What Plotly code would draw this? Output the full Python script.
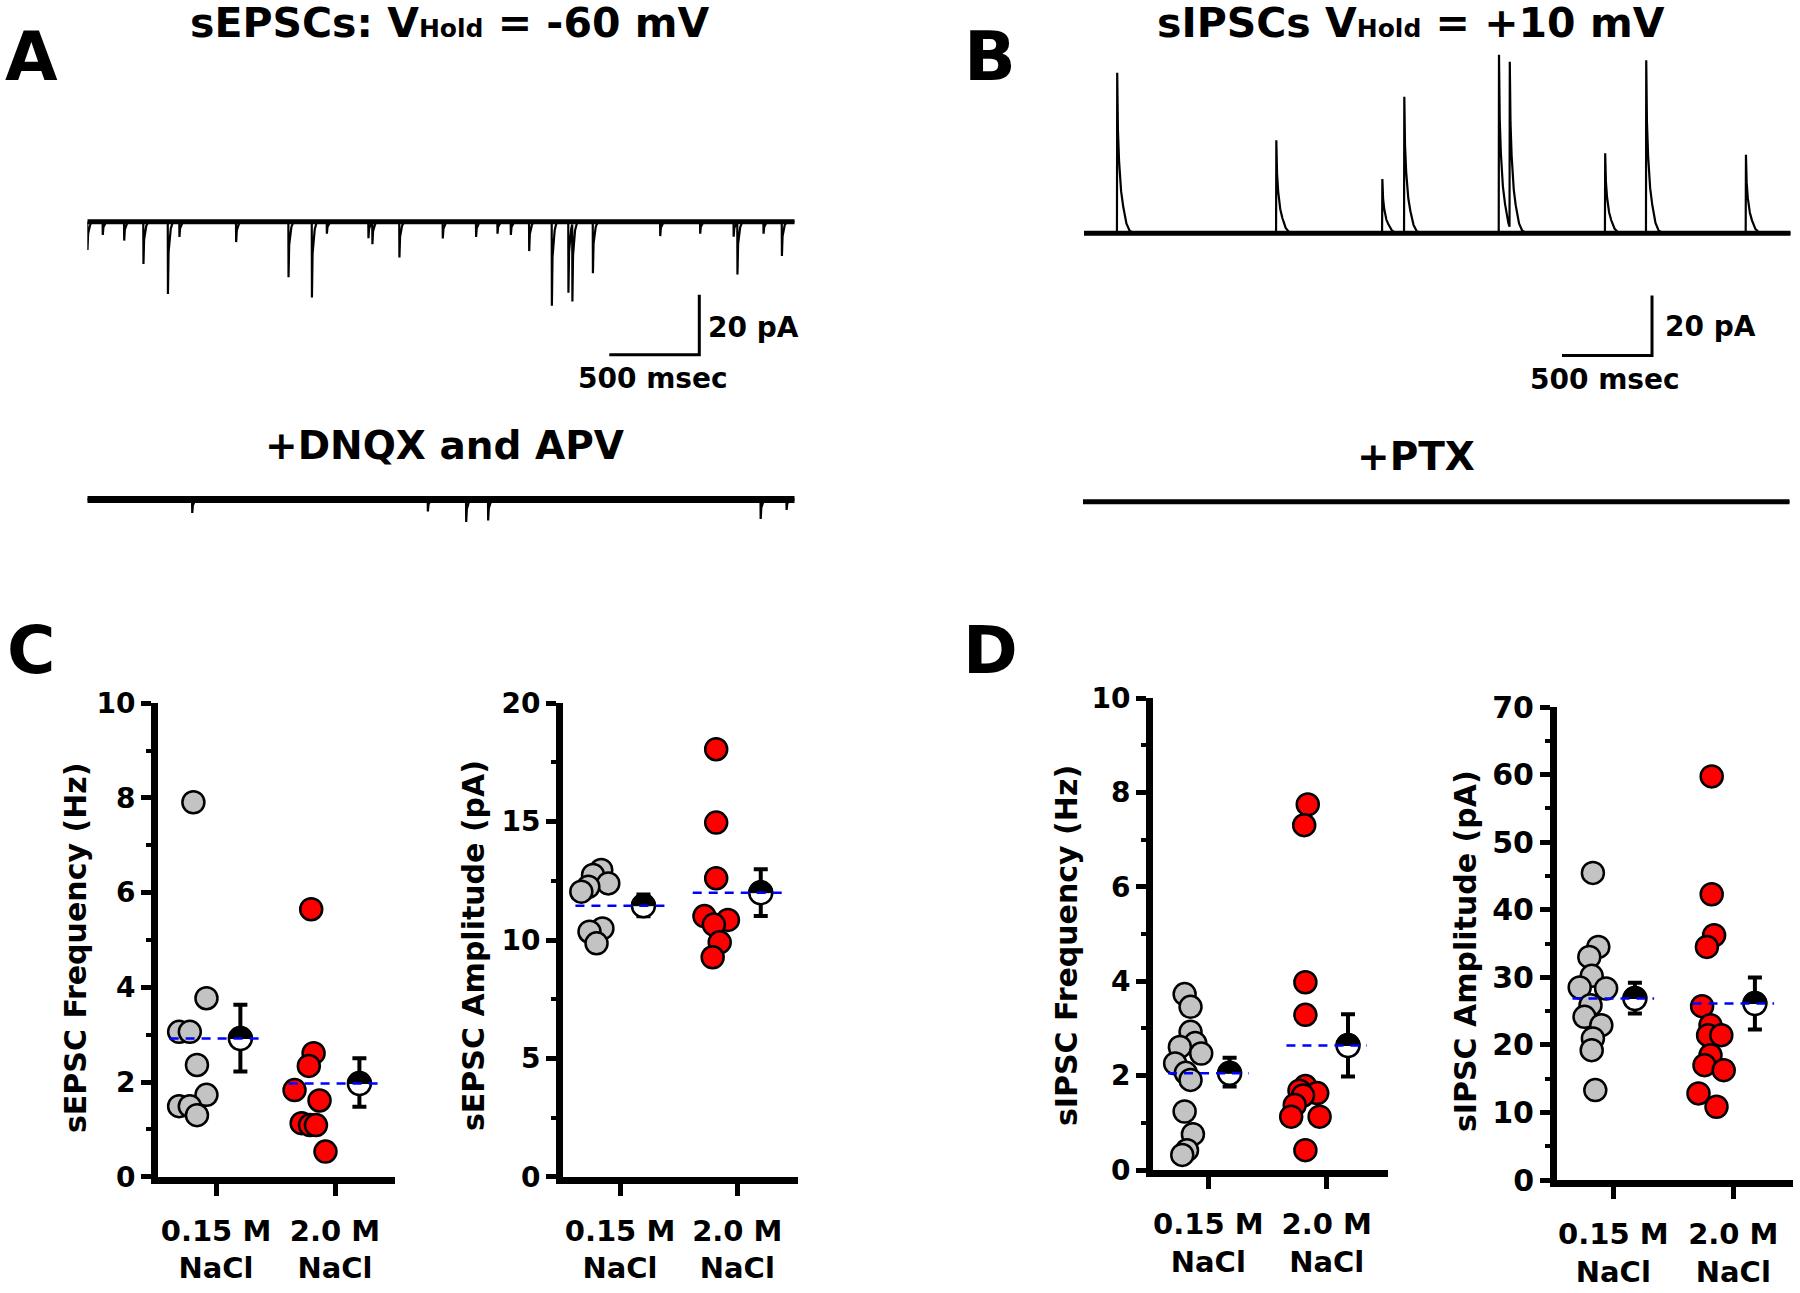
import numpy as np
import plotly.graph_objects as go

W, H = 1800, 1293
FONT = "DejaVu Sans"

# ------------------------------------------------------------------ data
category_labels = ["0.15 M<br>NaCl", "2.0 M<br>NaCl"]

# Panel C (left): sEPSC frequency (Hz)
c_freq_015 = [7.91, 3.77, 3.06, 3.06, 2.36, 1.73, 1.49, 1.49, 1.30]
c_freq_015_jit = [-0.19, -0.08, -0.31, -0.22, -0.16, -0.08, -0.31, -0.22, -0.16]
c_freq_20 = [5.65, 2.61, 2.34, 1.83, 1.61, 1.13, 1.09, 1.09, 0.53]
c_freq_20_jit = [-0.20, -0.18, -0.22, -0.34, -0.13, -0.28, -0.21, -0.16, -0.08]
c_freq_mean = [2.92, 1.97]
c_freq_hi = [3.63, 2.50]
c_freq_lo = [2.22, 1.48]

# Panel C (right): sEPSC amplitude (pA)
c_amp_015 = [12.96, 12.75, 12.39, 12.25, 12.04, 10.49, 10.35, 9.86]
c_amp_015_jit = [-0.16, -0.23, -0.10, -0.27, -0.33, -0.15, -0.26, -0.20]
c_amp_20 = [18.06, 14.96, 12.61, 11.01, 10.85, 10.65, 9.90, 9.27]
c_amp_20_jit = [-0.18, -0.18, -0.18, -0.28, -0.08, -0.20, -0.15, -0.21]
c_amp_mean = [11.45, 12.00]
c_amp_hi = [11.92, 12.99]
c_amp_lo = [11.00, 11.01]

# Panel D (left): sIPSC frequency (Hz)
d_freq_015 = [3.73, 3.46, 2.93, 2.69, 2.61, 2.47, 2.26, 2.06, 1.91, 1.24, 0.76, 0.42, 0.32]
d_freq_015_jit = [-0.20, -0.15, -0.15, -0.11, -0.24, -0.06, -0.28, -0.19, -0.15, -0.20, -0.13, -0.18, -0.22]
d_freq_20 = [7.75, 7.31, 3.98, 3.29, 1.78, 1.68, 1.63, 1.58, 1.38, 1.13, 1.13, 0.42]
d_freq_20_jit = [-0.16, -0.19, -0.18, -0.18, -0.18, -0.23, -0.08, -0.20, -0.27, -0.30, -0.06, -0.18]
d_freq_mean = [2.05, 2.64]
d_freq_hi = [2.38, 3.30]
d_freq_lo = [1.77, 1.98]

# Panel D (right): sIPSC amplitude (pA)
d_amp_015 = [45.44, 34.50, 33.02, 30.21, 28.49, 28.34, 25.87, 24.15, 22.92, 20.95, 19.22, 13.31]
d_amp_015_jit = [-0.17, -0.125, -0.20, -0.18, -0.28, -0.06, -0.19, -0.24, -0.10, -0.17, -0.18, -0.15]
d_amp_20 = [59.73, 42.29, 36.22, 34.50, 25.73, 22.92, 21.44, 21.44, 18.48, 17.00, 16.26, 12.81, 10.84]
d_amp_20_jit = [-0.18, -0.18, -0.16, -0.22, -0.26, -0.19, -0.21, -0.10, -0.19, -0.24, -0.08, -0.29, -0.14]
d_amp_mean = [26.86, 26.12]
d_amp_hi = [29.18, 29.97]
d_amp_lo = [24.64, 22.28]

# Panel A: sEPSC events (time ms, amplitude pA) and DNQX/APV residual events
epsc_t = [0, 85, 204, 311, 447, 511, 826, 1117, 1247, 1330, 1561, 1583, 1733, 1974, 2159,
          2278, 2352, 2454, 2580, 2672, 2694, 2808, 3182, 3404, 3590, 3611, 3756, 3858]
epsc_amp = [-9.4, -4.4, -6.3, -14.1, -24.1, -5.1, -6.8, -18.5, -25.3, -4.0, -5.5, -7.3, -11.9, -5.6, -5.1,
            -4.0, -4.4, -9.8, -28.0, -23.7, -25.8, -17.2, -4.8, -4.0, -5.0, -17.4, -4.0, -11.4]
dnqx_t = [582, 1891, 2104, 2226, 3740, 3884]
dnqx_amp = [-4.5, -4.0, -7.5, -7.0, -6.5, -3.5]
trace_a_len_ms = 3930

# Panel B: sIPSC events (time ms, amplitude pA)
ipsc_t = [183, 1067, 1656, 1778, 2304, 2364, 2894, 3122, 3676]
ipsc_amp = [53.5, 31.0, 18.1, 45.5, 59.5, 55.3, 26.7, 57.7, 26.2]
trace_b_len_ms = 3926

# event waveform templates (ms after onset, fraction of peak)
epsc_shape_t = [0, 1, 4, 10, 20, 30]
epsc_shape_v = [0, 1, 0.45, 0.2, 0.05, 0]
ipsc_shape_t = [0, 1.5, 6, 15, 25, 37, 50, 65, 90]
ipsc_shape_v = [0, 1, 0.6, 0.37, 0.24, 0.15, 0.07, 0.02, 0]

scale_ms = 500
scale_pA = 20

# ------------------------------------------------------------------ helpers
def px(xp):
    return xp / W


def py(yp):
    return 1 - yp / H


def waveform(t, ev_t, ev_a, st, sv):
    y = np.zeros_like(t)
    for et, ea in zip(ev_t, ev_a):
        y = y + ea * np.interp(t - et, st, sv, left=0, right=0)
    return y


fig = go.Figure()
layout = dict(
    width=W, height=H, autosize=False,
    margin=dict(l=0, r=0, t=0, b=0, pad=0, autoexpand=False),
    paper_bgcolor="white", plot_bgcolor="rgba(0,0,0,0)",
    showlegend=False, font=dict(family=FONT, color="black"),
)
shapes = []
annotations = []

PX_PER_MS = 0.18
PX_PER_PA = 3.0


def trace_axes(i, x0, t_len, ytop, ybot, base):
    xr = [0, t_len]
    yr = [-(ybot - base) / PX_PER_PA, (base - ytop) / PX_PER_PA]
    xk = "xaxis" if i == 1 else f"xaxis{i}"
    yk = "yaxis" if i == 1 else f"yaxis{i}"
    layout[xk] = dict(domain=[px(x0), px(x0 + t_len * PX_PER_MS)], range=xr, visible=False,
                      automargin=False, anchor=f"y{i}" if i > 1 else "y")
    layout[yk] = dict(domain=[py(ybot), py(ytop)], range=yr, visible=False,
                      automargin=False, anchor=f"x{i}" if i > 1 else "x")


def xy(i):
    return ("x", "y") if i == 1 else (f"x{i}", f"y{i}")


trace_axes(1, 87.3, trace_a_len_ms, 150, 400, 221.7)
trace_axes(2, 87.3, trace_a_len_ms, 465, 545, 499.4)
trace_axes(3, 1084, trace_b_len_ms, 40, 400, 233.3)
trace_axes(4, 1083, trace_b_len_ms, 470, 540, 501.7)

ta = np.arange(0, trace_a_len_ms + 0.5, 0.5)
tb = np.arange(0, trace_b_len_ms + 0.5, 0.5)

for i, t, evt, eva, st, sv, band in [
    (1, ta, epsc_t, epsc_amp, epsc_shape_t, epsc_shape_v, 5),
    (2, ta, dnqx_t, dnqx_amp, epsc_shape_t, epsc_shape_v, 7),
    (3, tb, ipsc_t, ipsc_amp, ipsc_shape_t, ipsc_shape_v, 5),
    (4, tb, [], [], ipsc_shape_t, ipsc_shape_v, 5),
]:
    xa, ya = xy(i)
    fig.add_trace(go.Scatter(x=[t[0], t[-1]], y=[0, 0], mode="lines", xaxis=xa, yaxis=ya,
                             line=dict(color="black", width=band), hoverinfo="skip"))
    y = waveform(t, evt, eva, st, sv)
    fig.add_trace(go.Scatter(x=t, y=y, mode="lines", xaxis=xa, yaxis=ya,
                             line=dict(color="black", width=2.2), hoverinfo="skip"))

# scale bars (in trace coordinates)
for i, corner_t, corner_y in [(1, 3400, -44.33), (3, 3155.6, -40.7)]:
    xa, ya = xy(i)
    fig.add_trace(go.Scatter(
        x=[corner_t - scale_ms, corner_t, corner_t],
        y=[corner_y, corner_y, corner_y + scale_pA],
        mode="lines", xaxis=xa, yaxis=ya, line=dict(color="black", width=3), hoverinfo="skip"))

# ------------------------------------------------------------------ scatter panels
panels = [
    dict(i=5, left=158, right=395, c0=216, c1=335, top=703.3, bot=1176.7, ymax=10, dtick=2, minor=1,
         g=c_freq_015, gj=c_freq_015_jit, r=c_freq_20, rj=c_freq_20_jit,
         mean=c_freq_mean, hi=c_freq_hi, lo=c_freq_lo, hw=0.39, moff=0.205,
         title="sEPSC Frequency (Hz)", tx=75, ty=948, tfs=28),
    dict(i=6, left=563, right=798, c0=620, c1=737.3, top=703.3, bot=1176.7, ymax=20, dtick=5, minor=2.5,
         g=c_amp_015, gj=c_amp_015_jit, r=c_amp_20, rj=c_amp_20_jit,
         mean=c_amp_mean, hi=c_amp_hi, lo=c_amp_lo, hw=0.38, moff=0.2,
         title="sEPSC Amplitude (pA)", tx=473, ty=946, tfs=28),
    dict(i=7, left=1153, right=1388, c0=1208.3, c1=1326.7, top=698.3, bot=1170, ymax=10, dtick=2, minor=1,
         g=d_freq_015, gj=d_freq_015_jit, r=d_freq_20, rj=d_freq_20_jit,
         mean=d_freq_mean, hi=d_freq_hi, lo=d_freq_lo, hw=0.34, moff=0.18,
         title="sIPSC Frequency (Hz)", tx=1066, ty=946, tfs=28),
    dict(i=8, left=1557, right=1793, c0=1613.3, c1=1733.3, top=707, bot=1180, ymax=70, dtick=10, minor=5,
         g=d_amp_015, gj=d_amp_015_jit, r=d_amp_20, rj=d_amp_20_jit,
         mean=d_amp_mean, hi=d_amp_hi, lo=d_amp_lo, hw=0.34, moff=0.18,
         title="sIPSC Amplitude (pA)", tx=1465, ty=951, tfs=30),
]

R = 12.0
ang = np.linspace(0, np.pi, 17)
half_disc = "M " + " L ".join(f"{R*np.cos(a):.2f},{R*np.sin(a):.2f}" for a in ang) + " Z"

for p in panels:
    i = p["i"]
    xa, ya = xy(i)
    span = p["c1"] - p["c0"]
    xr = [(p["left"] - p["c0"]) / span, (p["right"] - p["c0"]) / span]
    layout[f"xaxis{i}"] = dict(
        domain=[px(p["left"]), px(p["right"])], range=xr, anchor=ya, automargin=False,
        showline=True, linewidth=7, linecolor="black", mirror=False,
        ticks="outside", ticklen=12, tickwidth=5, tickcolor="black",
        tickmode="array", tickvals=[0, 1], ticktext=category_labels,
        tickfont=dict(family=FONT, size=29, weight="bold", color="black"),
        ticklabelstandoff=10,
        showgrid=False, zeroline=False, fixedrange=True)
    layout[f"yaxis{i}"] = dict(
        domain=[py(p["bot"]), py(p["top"])], range=[0, p["ymax"]], anchor=xa, automargin=False,
        showline=True, linewidth=7, linecolor="black",
        ticks="outside", ticklen=10, tickwidth=5, tickcolor="black",
        tick0=0, dtick=p["dtick"],
        minor=dict(ticks="outside", ticklen=5, tickwidth=4, tickcolor="black", dtick=p["minor"], showgrid=False),
        tickfont=dict(family=FONT, size=p["tfs"], weight="bold", color="black"),
        showgrid=False, zeroline=False, fixedrange=True)

    fig.add_trace(go.Scatter(
        x=[0 + j for j in p["gj"]], y=p["g"], mode="markers", xaxis=xa, yaxis=ya,
        marker=dict(size=22, color="#c3c3c3", line=dict(color="black", width=2.5)), cliponaxis=False))
    fig.add_trace(go.Scatter(
        x=[1 + j for j in p["rj"]], y=p["r"], mode="markers", xaxis=xa, yaxis=ya,
        marker=dict(size=22, color="#ff0000", line=dict(color="black", width=2.5)), cliponaxis=False))
    mx = [0 + p["moff"], 1 + p["moff"]]
    fig.add_trace(go.Scatter(
        x=mx, y=p["mean"], mode="markers", xaxis=xa, yaxis=ya,
        error_y=dict(type="data", symmetric=False,
                     array=[h - m for h, m in zip(p["hi"], p["mean"])],
                     arrayminus=[m - l for m, l in zip(p["mean"], p["lo"])],
                     color="black", thickness=4, width=7),
        marker=dict(size=23, color="white", line=dict(color="black", width=2.5)), cliponaxis=False))
    for x0, m in zip(mx, p["mean"]):
        shapes.append(dict(type="path", xref=xa, yref=ya, xsizemode="pixel", ysizemode="pixel",
                           xanchor=x0, yanchor=m, path=half_disc, fillcolor="black",
                           line=dict(color="black", width=1), layer="above"))
    for c, m in zip([0, 1], p["mean"]):
        shapes.append(dict(type="line", xref=xa, yref=ya, x0=c - p["hw"], x1=c + p["hw"], y0=m, y1=m,
                           line=dict(color="#0000ff", width=2.5, dash="9px,7px"), layer="above"))
    annotations.append(dict(text=p["title"], x=px(p["tx"]), y=py(p["ty"]), xref="paper", yref="paper",
                            xanchor="center", yanchor="middle", textangle=-90, showarrow=False,
                            font=dict(family=FONT, size=30, weight="bold", color="black")))

# ------------------------------------------------------------------ texts


def note(text, x, y, size, xanchor="center"):
    annotations.append(dict(text=text, x=px(x), y=py(y), xref="paper", yref="paper",
                            xanchor=xanchor, yanchor="middle", showarrow=False,
                            font=dict(family=FONT, size=size, weight="bold", color="black")))


note("A", 31, 57, 68)
note("B", 990, 57, 68)
note("C", 31, 650, 66)
note("D", 990, 650, 66)
note('sEPSCs: V<span style="font-size:25px">Hold</span> = -60 mV', 449, 23, 41)
note('sIPSCs V<span style="font-size:25px">Hold</span> = +10 mV', 1411, 23, 41)
note("+DNQX and APV", 444, 446, 39)
note("+PTX", 1416, 457, 39)
note("20 pA", 706, 327, 28, xanchor="left")
note("500 msec", 653, 378, 28)
note("20 pA", 1663, 326, 28, xanchor="left")
note("500 msec", 1605, 380, 28)

layout["shapes"] = shapes
layout["annotations"] = annotations
fig.update_layout(**layout)

fig.write_html("out.html", config={"displayModeBar": False, "staticPlot": True, "responsive": False},
               post_script="document.body.style.margin='0';document.body.style.overflow='hidden';")
